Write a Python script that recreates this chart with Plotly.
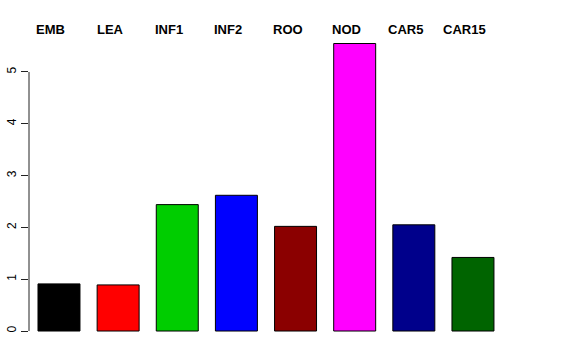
import plotly.graph_objects as go

categories = ["EMB", "LEA", "INF1", "INF2", "ROO", "NOD", "CAR5", "CAR15"]
values = [0.91, 0.89, 2.44, 2.62, 2.02, 5.55, 2.05, 1.42]
colors = ["#000000", "#FF0000", "#00CD00", "#0000FF", "#8B0000", "#FF00FF", "#00008B", "#006400"]
ytick_vals = [0, 1, 2, 3, 4, 5]
ytick_text = ["0", "1", "2", "3", "4", "5"]

xpos = list(range(len(categories)))

fig = go.Figure()
fig.add_trace(go.Bar(
    x=xpos, y=values,
    marker=dict(color=colors, line=dict(color="black", width=1)),
    width=0.71,
    hoverinfo="skip",
))

for i, c in enumerate(categories):
    fig.add_annotation(
        x=i, y=1, xref="x", yref="paper", text="<b>%s</b>" % c,
        showarrow=False, xanchor="center", yanchor="middle", yshift=3, xshift=-8,
        font=dict(family="Liberation Sans, Arial, sans-serif", size=13, color="black"),
    )

fig.add_shape(type="line", xref="paper", yref="y", x0=0, x1=0,
              y0=min(ytick_vals), y1=max(ytick_vals),
              line=dict(color="#222222", width=1))

fig.update_layout(
    width=576, height=360,
    margin=dict(l=29, r=30, t=32, b=18, autoexpand=False),
    paper_bgcolor="white", plot_bgcolor="white",
    showlegend=False,
    xaxis=dict(range=[-0.507, 8.235], showticklabels=False, ticks="", showgrid=False,
               zeroline=False, showline=False, fixedrange=True, automargin=False),
    yaxis=dict(range=[-0.212, 5.772], tickvals=ytick_vals, ticktext=ytick_text,
               ticks="outside", ticklen=7, tickcolor="#222222", tickwidth=1,
               tickangle=-90, showgrid=False, zeroline=False, showline=False,
               tickfont=dict(family="Liberation Sans, Arial, sans-serif", size=12, color="black"),
               fixedrange=True, automargin=False),
    font=dict(family="Liberation Sans, Arial, sans-serif"),
)

fig.write_html("out.html", config={"displayModeBar": False},
               post_script="document.body.style.margin='0';document.body.style.padding='0';")
